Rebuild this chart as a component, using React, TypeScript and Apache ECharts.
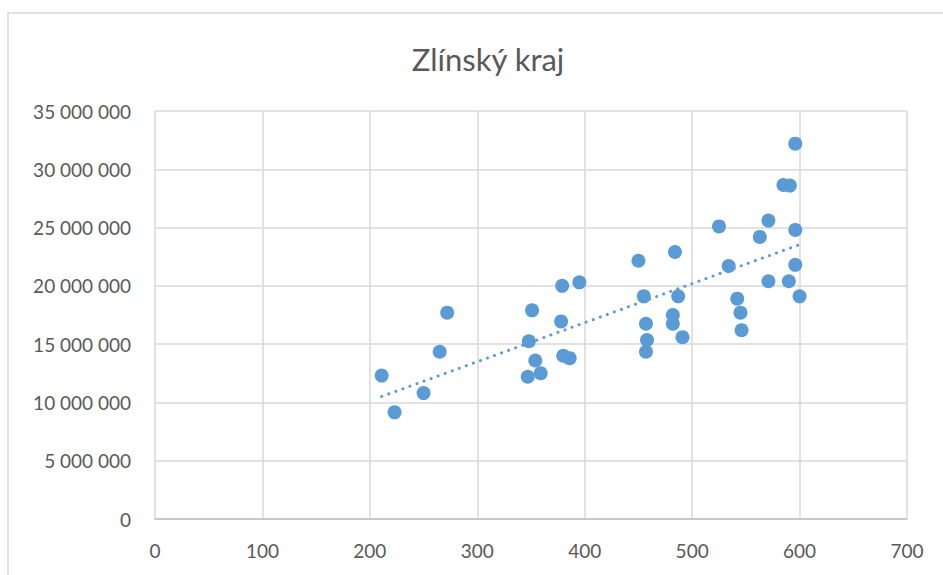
import React, { useEffect, useRef } from "react";
import * as echarts from "echarts";

const titleText = "Zlínský kraj";
const xTicks = [0, 700, 100];
const yTicks = [0, 35000000, 5000000];

const xValues = [
  211, 223, 250, 265, 272, 347, 348, 351, 354, 359, 378, 379, 380, 386, 395,
  450, 455, 457, 458, 457, 482, 482, 484, 487, 491, 525, 534, 542, 545, 546,
  563, 571, 571, 585, 591, 596, 596, 596, 590, 600,
];
const yValues = [
  12300000, 9150000, 10800000, 14350000, 17700000, 12200000, 15250000, 17900000, 13600000, 12500000,
  16950000, 20000000, 14000000, 13800000, 20300000, 22150000, 19100000, 16750000, 15350000, 14350000,
  17500000, 16750000, 22900000, 19100000, 15600000, 25100000, 21700000, 18900000, 17700000, 16200000,
  24200000, 25600000, 20400000, 28650000, 28600000, 32200000, 24800000, 21800000, 20400000, 19100000,
];

function fmt(v: number) {
  return String(v).replace(/\B(?=(\d{3})+(?!\d))/g, " ");
}

function trend(xs: number[], ys: number[]) {
  const n = xs.length;
  const mx = xs.reduce((a, b) => a + b, 0) / n;
  const my = ys.reduce((a, b) => a + b, 0) / n;
  let sxy = 0;
  let sxx = 0;
  for (let i = 0; i < n; i++) {
    sxy += (xs[i] - mx) * (ys[i] - my);
    sxx += (xs[i] - mx) * (xs[i] - mx);
  }
  const b = sxy / sxx;
  const a = my - b * mx;
  const x0 = Math.min(...xs);
  const x1 = Math.max(...xs);
  return [
    [x0, a + b * x0],
    [x1, a + b * x1],
  ];
}

export default function App() {
  const ref = useRef<HTMLDivElement>(null);
  useEffect(() => {
    if (!ref.current) return;
    const chart = echarts.init(ref.current, undefined, { renderer: "svg" });
    const font = "Lato";
    chart.setOption({
      animation: false,
      backgroundColor: "#ffffff",
      title: {
        text: titleText,
        left: 483,
        top: 38,
        textAlign: "center",
        textStyle: { fontFamily: font, fontSize: 31, fontWeight: "normal", color: "#595959" },
      },
      graphic: [
        {
          type: "rect",
          shape: { x: 8, y: 13, width: 1200, height: 1200 },
          style: { fill: "none", stroke: "#d9d9d9", lineWidth: 1.5 },
          silent: true,
        },
      ],
      grid: { left: 155, right: 36, top: 111, bottom: 56, containLabel: false },
      xAxis: {
        type: "value",
        min: xTicks[0],
        max: xTicks[1],
        interval: xTicks[2],
        axisLine: { show: true, lineStyle: { color: "#bfbfbf", width: 1.5 } },
        axisTick: { show: false },
        splitLine: { show: true, lineStyle: { color: "#d9d9d9", width: 1.5 } },
        axisLabel: { fontFamily: font, fontSize: 19, color: "#595959", margin: 22 },
      },
      yAxis: {
        type: "value",
        min: yTicks[0],
        max: yTicks[1],
        interval: yTicks[2],
        axisLine: { show: false },
        axisTick: { show: false },
        splitLine: { show: true, lineStyle: { color: "#d9d9d9", width: 1.5 } },
        axisLabel: { fontFamily: font, fontSize: 19, color: "#595959", margin: 24, formatter: (v: number) => fmt(v) },
      },
      series: [
        {
          type: "scatter",
          data: xValues.map((x, i) => [x, yValues[i]]),
          symbolSize: 14,
          itemStyle: { color: "#5b9bd5", opacity: 1 },
          z: 3,
        },
        {
          type: "line",
          data: trend(xValues, yValues),
          showSymbol: false,
          symbol: "none",
          lineStyle: { color: "#5b9bd5", width: 3, type: [0.1, 7.4], cap: "round" },
          z: 2,
        },
      ],
    });
    return () => chart.dispose();
  }, []);
  return <div ref={ref} style={{ position: "fixed", left: 0, top: 0, width: 943, height: 575 }} />;
}
